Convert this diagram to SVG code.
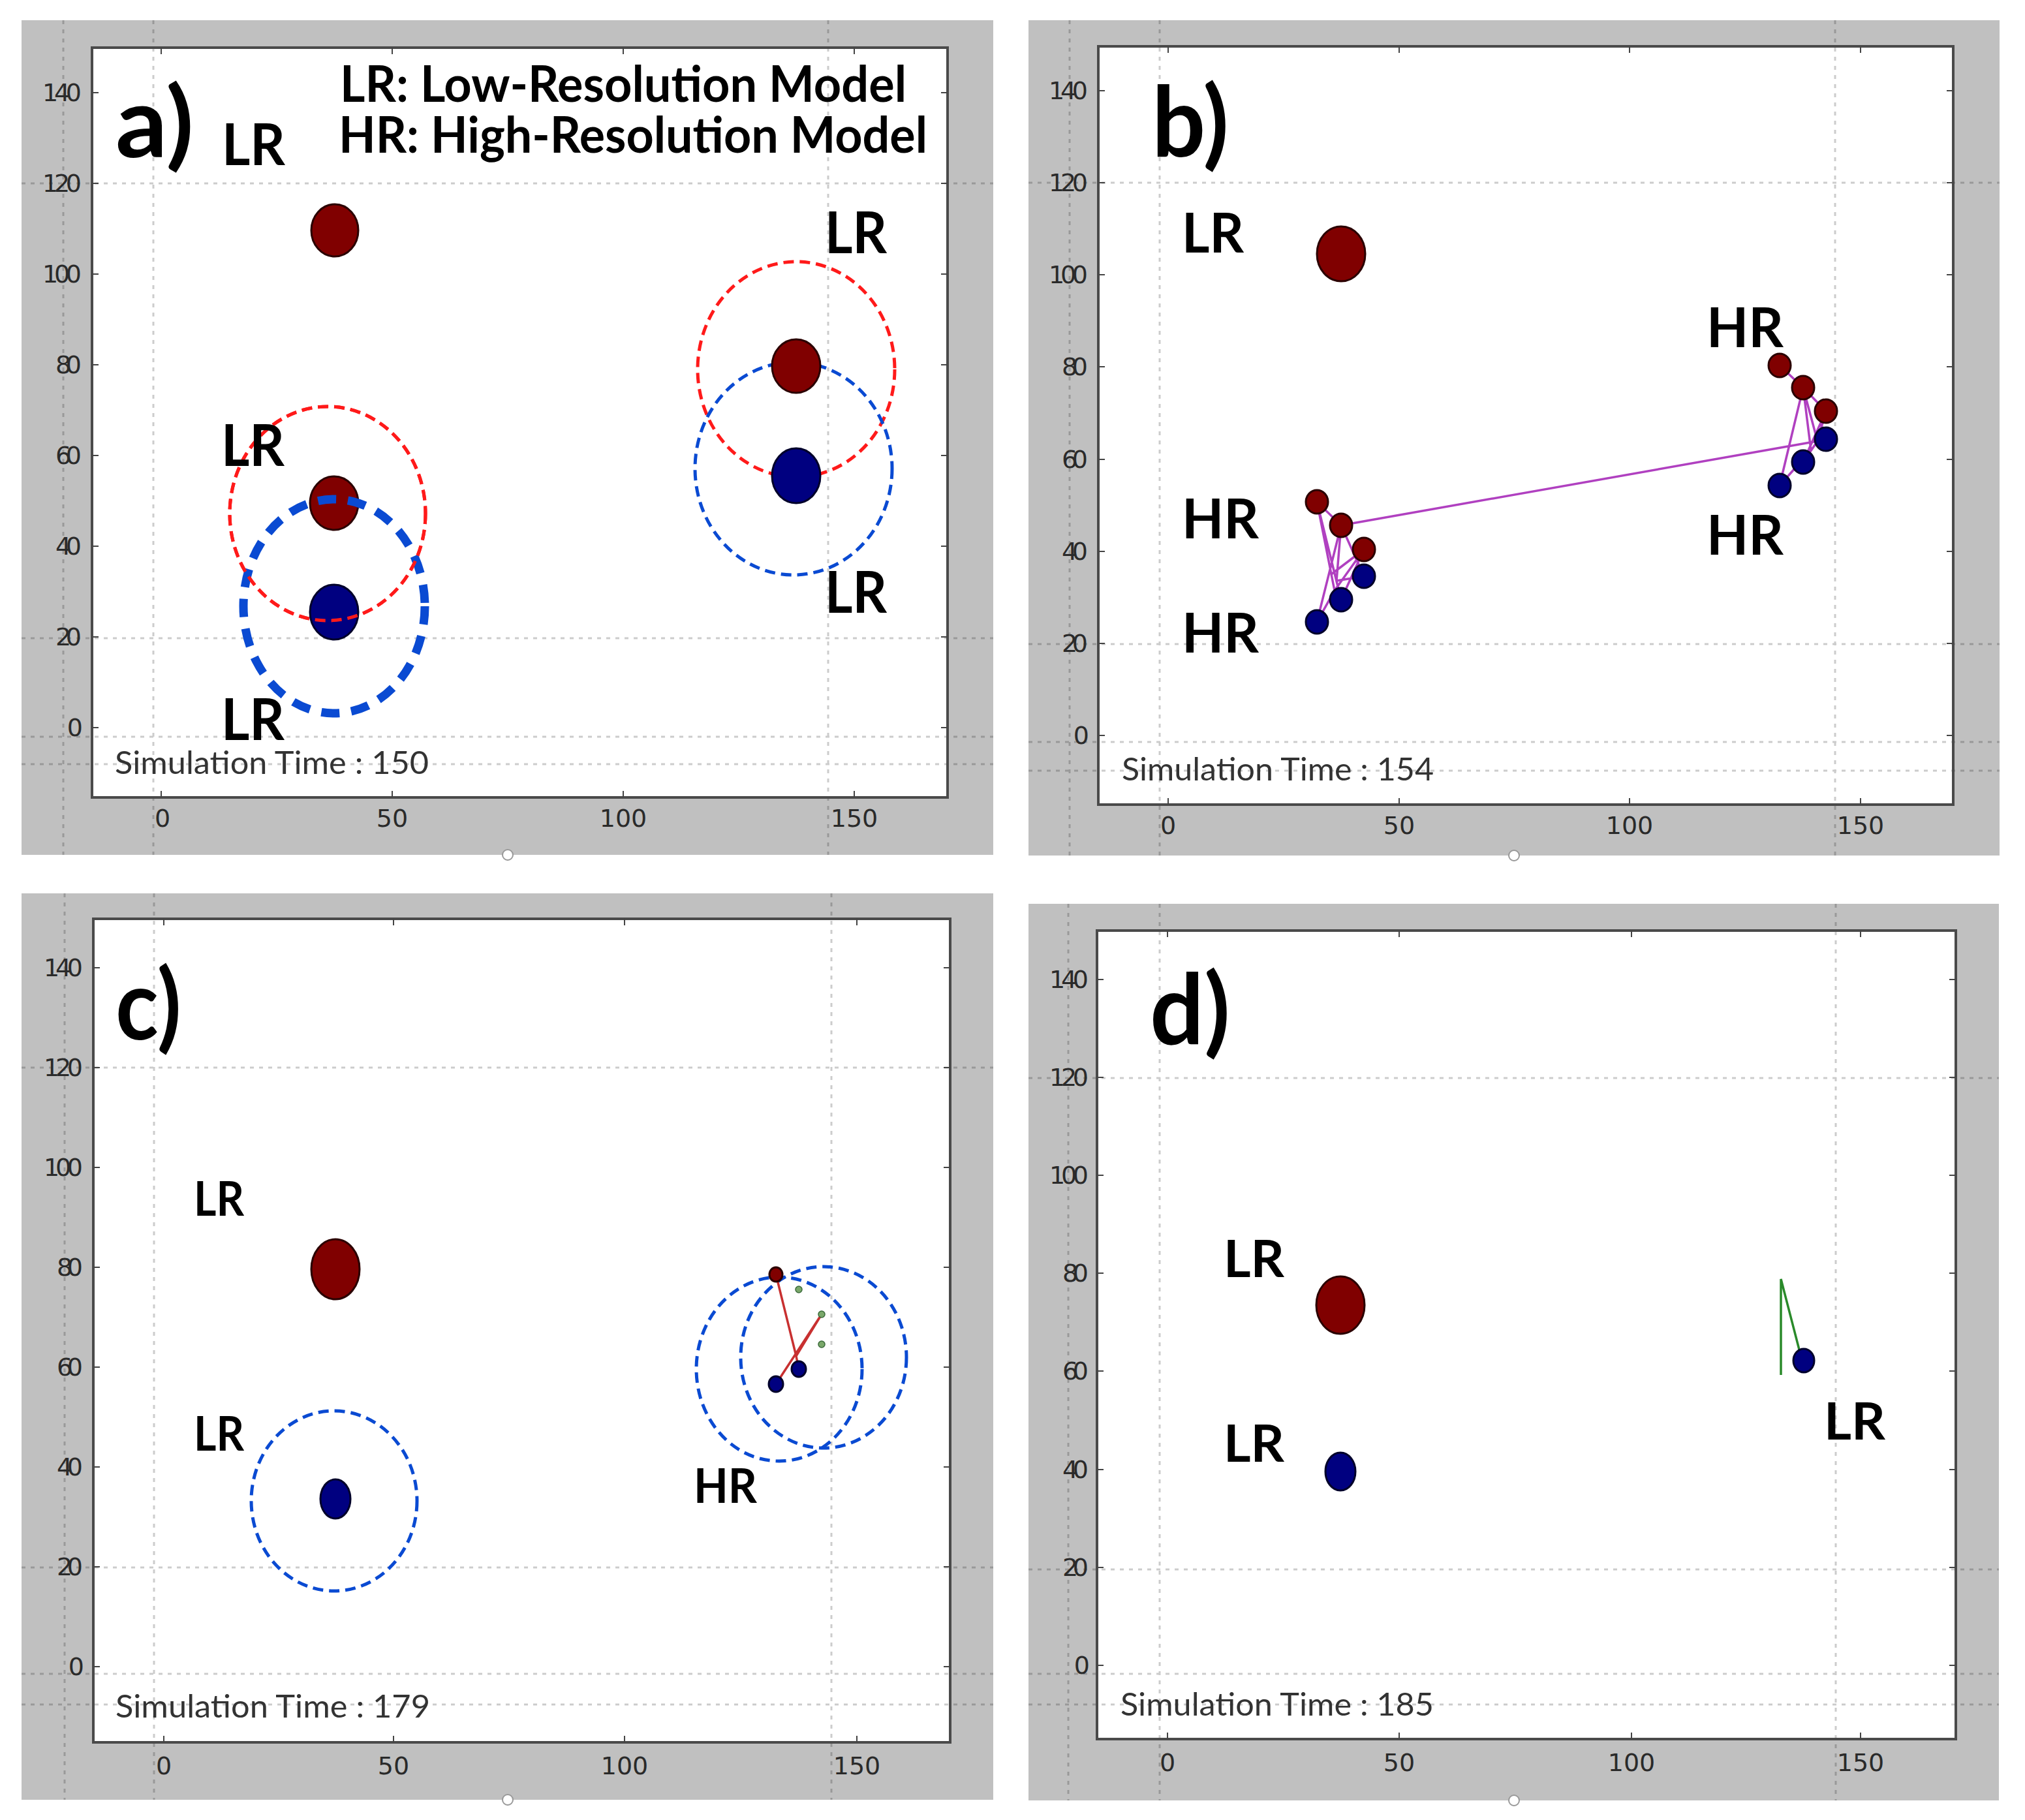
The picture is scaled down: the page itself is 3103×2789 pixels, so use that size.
<svg xmlns="http://www.w3.org/2000/svg" width="3103" height="2789" viewBox="0 0 3103 2789">
<style>
.bg{fill:#c0c0c0}
.pf{fill:#fff}
.pb{fill:none;stroke:#4a4a4a;stroke-width:4}
.grid{fill:none;stroke:#000;stroke-opacity:.2;stroke-width:3;stroke-dasharray:6 8}
.tick{fill:none;stroke:#444;stroke-width:2}
.tl{font-family:"DejaVu Sans",sans-serif;font-size:38px;fill:#2a2a2a}
.tly{text-anchor:end}
.tlx{text-anchor:middle}
.lbl{font-family:Lato,"Open Sans",sans-serif;font-weight:700;fill:#000}
.big{font-size:150px}
.sim{font-family:Lato,"Open Sans",sans-serif;font-size:48px;fill:#333}
.rd{fill:#800000;stroke:#2a0000;stroke-width:3}
.bd{fill:#000080;stroke:#00002a;stroke-width:3}
.rc{fill:none;stroke:#ff1a1a;stroke-width:5;stroke-dasharray:16 9}
.bc{fill:none;stroke:#0a4ad2;stroke-width:5;stroke-dasharray:16 9}
.bct{fill:none;stroke:#0a4ad2;stroke-width:13;stroke-dasharray:28 18}
.pl{fill:none;stroke:#b040c0;stroke-width:3.5}
.rl{fill:none;stroke:#c83030;stroke-width:3.5}
.gl{fill:none;stroke:#2a8a2a;stroke-width:3.5}
.gd{fill:#7aa86a;stroke:#3a6a3a;stroke-width:1.5}
.hd{fill:#fff;stroke:#999;stroke-width:2}
</style>
<rect width="3103" height="2789" fill="#fff"/>

<g id="panel-a">
<rect class="bg" x="33" y="31" width="1489" height="1279"/>
<rect class="pf" x="141" y="73" width="1311" height="1149"/>
<path class="grid" d="M97 31V1310M235 31V1310M1269 31V1310M33 281H1522M33 978H1522M33 1129H1522M33 1171H1522"/>
<rect class="pb" x="141" y="73" width="1311" height="1149"/>
<path class="tick" d="M247 73v10M601 73v10M955 73v10M1309 73v10M247 1222v-10M601 1222v-10M955 1222v-10M1309 1222v-10M141 142h10M141 281h10M141 420h10M141 559h10M141 698h10M141 837h10M141 976h10M141 1115h10M1452 142h-10M1452 281h-10M1452 420h-10M1452 559h-10M1452 698h-10M1452 837h-10M1452 976h-10M1452 1115h-10"/>
<g class="tl tly">
<text x="125" y="155" textLength="60">140</text>
<text x="125" y="294" textLength="60">120</text>
<text x="125" y="433" textLength="60">100</text>
<text x="125" y="572" textLength="40">80</text>
<text x="125" y="711" textLength="40">60</text>
<text x="125" y="850" textLength="40">40</text>
<text x="125" y="989" textLength="40">20</text>
<text x="127" y="1128" textLength="20">0</text>
</g>
<g class="tl tlx">
<text x="249" y="1267">0</text>
<text x="601" y="1267">50</text>
<text x="955" y="1267">100</text>
<text x="1309" y="1267">150</text>
</g>
<ellipse class="rc" cx="502" cy="787" rx="150" ry="164"/>
<ellipse class="rc" cx="1220" cy="566" rx="151" ry="165"/>
<ellipse class="bc" cx="1216" cy="718" rx="151" ry="163"/>
<ellipse class="rd" cx="513" cy="353" rx="36" ry="40"/>
<ellipse class="rd" cx="512" cy="771" rx="37" ry="41"/>
<ellipse class="bd" cx="512" cy="938" rx="37" ry="42"/>
<ellipse class="rd" cx="1220" cy="561" rx="37" ry="41"/>
<ellipse class="bd" cx="1220" cy="729" rx="37" ry="42"/>
<ellipse class="bct" cx="512" cy="929" rx="139" ry="164"/>
<ellipse class="rc" cx="502" cy="787" rx="150" ry="164" stroke-dasharray="0 600 16 9 16 9 16 9 16 9 16 9 16 9 16 400"/>
<text class="lbl" x="521" y="156" font-size="77" textLength="868" lengthAdjust="spacingAndGlyphs">LR: Low-Resolution Model</text>
<text class="lbl" x="519" y="234" font-size="77" textLength="902" lengthAdjust="spacingAndGlyphs">HR: High-Resolution Model</text>
<text class="lbl big" x="177" y="241" textLength="120" lengthAdjust="spacingAndGlyphs">a)</text>
<text class="lbl" x="340" y="253" font-size="88" textLength="97" lengthAdjust="spacingAndGlyphs">LR</text>
<text class="lbl" x="1264" y="388" font-size="88" textLength="95" lengthAdjust="spacingAndGlyphs">LR</text>
<text class="lbl" x="339" y="714" font-size="88" textLength="97" lengthAdjust="spacingAndGlyphs">LR</text>
<text class="lbl" x="339" y="1134" font-size="88" textLength="97" lengthAdjust="spacingAndGlyphs">LR</text>
<text class="lbl" x="1264" y="939" font-size="88" textLength="95" lengthAdjust="spacingAndGlyphs">LR</text>
<text class="sim" x="176" y="1186" textLength="481" lengthAdjust="spacingAndGlyphs">Simulation Time : 150</text>
<circle class="hd" cx="778" cy="1310" r="8"/>
</g>

<g id="panel-b">
<rect class="bg" x="1576" y="31" width="1488" height="1280"/>
<rect class="pf" x="1683" y="71" width="1310" height="1162"/>
<path class="grid" d="M1639 31V1311M1777 31V1311M2812 31V1311M1576 280H3064M1576 987H3064M1576 1137H3064M1576 1181H3064"/>
<rect class="pb" x="1683" y="71" width="1310" height="1162"/>
<path class="tick" d="M1790 71v10M2144 71v10M2497 71v10M2851 71v10M1790 1233v-10M2144 1233v-10M2497 1233v-10M2851 1233v-10M1683 139h10M1683 280h10M1683 421h10M1683 562h10M1683 704h10M1683 845h10M1683 986h10M1683 1127h10M2993 139h-10M2993 280h-10M2993 421h-10M2993 562h-10M2993 704h-10M2993 845h-10M2993 986h-10M2993 1127h-10"/>
<g class="tl tly">
<text x="1667" y="152" textLength="60">140</text>
<text x="1667" y="293" textLength="60">120</text>
<text x="1667" y="434" textLength="60">100</text>
<text x="1667" y="575" textLength="40">80</text>
<text x="1667" y="717" textLength="40">60</text>
<text x="1667" y="858" textLength="40">40</text>
<text x="1667" y="999" textLength="40">20</text>
<text x="1669" y="1140" textLength="20">0</text>
</g>
<g class="tl tlx">
<text x="1790" y="1278">0</text>
<text x="2144" y="1278">50</text>
<text x="2497" y="1278">100</text>
<text x="2851" y="1278">150</text>
</g>
<g id="links-b">
<path class="pl" d="M2055 805L2785 676"/>
<path class="pl" d="M2018 769L2055 805M2018 769L2045 905M2018 769L2055 919M2055 805L2018 953M2055 805L2090 883M2055 805L2048 890M2090 842L2055 919M2090 842L2040 880M2045 905L2090 842M2045 905L2018 953M2048 890L2090 883"/>
<path class="pl" d="M2727 560L2763 594M2763 594L2798 630M2763 594L2785 676M2798 630L2785 676M2763 594L2727 744M2785 676L2798 673M2785 676L2763 708M2763 594L2775 690M2798 630L2763 708M2775 690L2727 744"/>
</g>
<ellipse class="rd" cx="2055" cy="389" rx="37" ry="42"/>
<ellipse class="rd" cx="2018" cy="769" rx="17" ry="18"/>
<ellipse class="rd" cx="2055" cy="805" rx="17" ry="18"/>
<ellipse class="rd" cx="2090" cy="842" rx="17" ry="18"/>
<ellipse class="bd" cx="2090" cy="883" rx="17" ry="18"/>
<ellipse class="bd" cx="2055" cy="919" rx="17" ry="18"/>
<ellipse class="bd" cx="2018" cy="953" rx="17" ry="18"/>
<ellipse class="rd" cx="2727" cy="560" rx="17" ry="18"/>
<ellipse class="rd" cx="2763" cy="594" rx="17" ry="18"/>
<ellipse class="rd" cx="2798" cy="630" rx="17" ry="18"/>
<ellipse class="bd" cx="2798" cy="673" rx="17" ry="18"/>
<ellipse class="bd" cx="2763" cy="708" rx="17" ry="18"/>
<ellipse class="bd" cx="2727" cy="744" rx="17" ry="18"/>
<text class="lbl big" x="1765" y="240" textLength="118" lengthAdjust="spacingAndGlyphs">b)</text>
<text class="lbl" x="1811" y="387" font-size="84" textLength="95" lengthAdjust="spacingAndGlyphs">LR</text>
<text class="lbl" x="2615" y="532" font-size="84" textLength="118" lengthAdjust="spacingAndGlyphs">HR</text>
<text class="lbl" x="1811" y="825" font-size="84" textLength="118" lengthAdjust="spacingAndGlyphs">HR</text>
<text class="lbl" x="1811" y="1000" font-size="84" textLength="118" lengthAdjust="spacingAndGlyphs">HR</text>
<text class="lbl" x="2615" y="850" font-size="84" textLength="118" lengthAdjust="spacingAndGlyphs">HR</text>
<text class="sim" x="1719" y="1196" textLength="478" lengthAdjust="spacingAndGlyphs">Simulation Time : 154</text>
<circle class="hd" cx="2320" cy="1311" r="8"/>
</g>

<g id="panel-c">
<rect class="bg" x="33" y="1369" width="1489" height="1389"/>
<rect class="pf" x="143" y="1408" width="1313" height="1262"/>
<path class="grid" d="M99 1369V2758M236 1369V2758M1274 1369V2758M33 1636H1522M33 2402H1522M33 2565H1522M33 2612H1522"/>
<rect class="pb" x="143" y="1408" width="1313" height="1262"/>
<path class="tick" d="M251 1408v10M603 1408v10M957 1408v10M1313 1408v10M251 2670v-10M603 2670v-10M957 2670v-10M1313 2670v-10M143 1483h10M143 1636h10M143 1789h10M143 1942h10M143 2095h10M143 2248h10M143 2401h10M143 2554h10M1456 1483h-10M1456 1636h-10M1456 1789h-10M1456 1942h-10M1456 2095h-10M1456 2248h-10M1456 2401h-10M1456 2554h-10"/>
<g class="tl tly">
<text x="127" y="1496" textLength="60">140</text>
<text x="127" y="1649" textLength="60">120</text>
<text x="127" y="1802" textLength="60">100</text>
<text x="127" y="1955" textLength="40">80</text>
<text x="127" y="2108" textLength="40">60</text>
<text x="127" y="2261" textLength="40">40</text>
<text x="127" y="2414" textLength="40">20</text>
<text x="129" y="2567" textLength="20">0</text>
</g>
<g class="tl tlx">
<text x="251" y="2719">0</text>
<text x="603" y="2719">50</text>
<text x="957" y="2719">100</text>
<text x="1313" y="2719">150</text>
</g>
<ellipse class="bc" cx="512" cy="2300" rx="127" ry="138"/>
<ellipse class="bc" cx="1194" cy="2098" rx="127" ry="141"/>
<ellipse class="bc" cx="1262" cy="2080" rx="127" ry="139"/>
<g id="links-c">
<path class="rl" d="M1189 1953L1220 2078M1259 2014L1189 2121M1259 2014L1220 2078L1224 2098"/>
</g>
<ellipse class="rd" cx="514" cy="1945" rx="37" ry="46"/>
<ellipse class="bd" cx="514" cy="2297" rx="23" ry="30"/>
<ellipse class="rd" cx="1189" cy="1953" rx="10" ry="11"/>
<ellipse class="bd" cx="1189" cy="2121" rx="11" ry="12"/>
<ellipse class="bd" cx="1224" cy="2098" rx="11" ry="12"/>
<circle class="gd" cx="1224" cy="1976" r="5"/>
<circle class="gd" cx="1259" cy="2014" r="5"/>
<circle class="gd" cx="1259" cy="2060" r="5"/>
<text class="lbl big" x="177" y="1593" textLength="101" lengthAdjust="spacingAndGlyphs">c)</text>
<text class="lbl" x="297" y="1863" font-size="73" textLength="77" lengthAdjust="spacingAndGlyphs">LR</text>
<text class="lbl" x="297" y="2223" font-size="73" textLength="77" lengthAdjust="spacingAndGlyphs">LR</text>
<text class="lbl" x="1063" y="2303" font-size="73" textLength="97" lengthAdjust="spacingAndGlyphs">HR</text>
<text class="sim" x="177" y="2632" textLength="482" lengthAdjust="spacingAndGlyphs">Simulation Time : 179</text>
<circle class="hd" cx="778" cy="2758" r="8"/>
</g>

<g id="panel-d">
<rect class="bg" x="1576" y="1385" width="1487" height="1374"/>
<rect class="pf" x="1681" y="1426" width="1316" height="1239"/>
<path class="grid" d="M1637 1385V2759M1777 1385V2759M2813 1385V2759M1576 1652H3063M1576 2405H3063M1576 2565H3063M1576 2612H3063"/>
<rect class="pb" x="1681" y="1426" width="1316" height="1239"/>
<path class="tick" d="M1789 1426v10M2144 1426v10M2500 1426v10M2851 1426v10M1789 2665v-10M2144 2665v-10M2500 2665v-10M2851 2665v-10M1681 1501h10M1681 1651h10M1681 1801h10M1681 1951h10M1681 2101h10M1681 2252h10M1681 2402h10M1681 2552h10M2997 1501h-10M2997 1651h-10M2997 1801h-10M2997 1951h-10M2997 2101h-10M2997 2252h-10M2997 2402h-10M2997 2552h-10"/>
<g class="tl tly">
<text x="1668" y="1514" textLength="60">140</text>
<text x="1668" y="1664" textLength="60">120</text>
<text x="1668" y="1814" textLength="60">100</text>
<text x="1668" y="1964" textLength="40">80</text>
<text x="1668" y="2114" textLength="40">60</text>
<text x="1668" y="2265" textLength="40">40</text>
<text x="1668" y="2415" textLength="40">20</text>
<text x="1670" y="2565" textLength="20">0</text>
</g>
<g class="tl tlx">
<text x="1789" y="2714">0</text>
<text x="2144" y="2714">50</text>
<text x="2500" y="2714">100</text>
<text x="2851" y="2714">150</text>
</g>
<g id="links-d">
<path class="gl" d="M2729 2107V1960L2758 2072"/>
</g>
<ellipse class="rd" cx="2054" cy="2000" rx="37" ry="44"/>
<ellipse class="bd" cx="2054" cy="2255" rx="23" ry="29"/>
<ellipse class="bd" cx="2764" cy="2085" rx="16" ry="18"/>
<text class="lbl big" x="1762" y="1600" textLength="123" lengthAdjust="spacingAndGlyphs">d)</text>
<text class="lbl" x="1875" y="1957" font-size="78" textLength="93" lengthAdjust="spacingAndGlyphs">LR</text>
<text class="lbl" x="1875" y="2240" font-size="78" textLength="93" lengthAdjust="spacingAndGlyphs">LR</text>
<text class="lbl" x="2795" y="2206" font-size="78" textLength="94" lengthAdjust="spacingAndGlyphs">LR</text>
<text class="sim" x="1717" y="2629" textLength="480" lengthAdjust="spacingAndGlyphs">Simulation Time : 185</text>
<circle class="hd" cx="2320" cy="2759" r="8"/>
</g>
</svg>
